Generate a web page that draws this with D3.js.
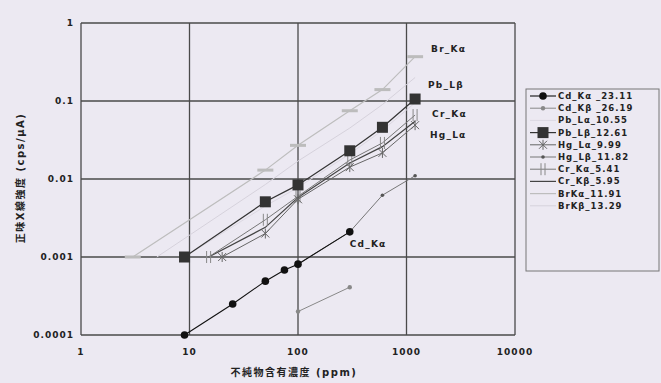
<!DOCTYPE html>
<html><head><meta charset="utf-8">
<script src="https://cdn.jsdelivr.net/npm/d3@7"></script>
<style>
html,body{margin:0;padding:0;background:#ece9f2;}
svg{display:block;}
text{font-family:"DejaVu Sans","Noto Sans CJK JP",sans-serif;fill:#222;}
</style></head>
<body>
<script>
// ---- data ----
const xTicks = [1, 10, 100, 1000, 10000];
const yTicks = [0.0001, 0.001, 0.01, 0.1, 1];
const xTickLabels = ["1", "10", "100", "1000", "10000"];
const yTickLabels = ["0.0001", "0.001", "0.01", "0.1", "1"];
const xTitle = "不純物含有濃度 (ppm)";
const yTitle = "正味X線強度 (cps/μA)";

const seriesNames = ["Cd_Kα _23.11", "Cd_Kβ _26.19", "Pb_Lα_10.55", "Pb_Lβ_12.61", "Hg_Lα_9.99",
  "Hg_Lβ_11.82", "Cr_Kα_5.41", "Cr_Kβ_5.95", "BrKα_11.91", "BrKβ_13.29"];

const cdKaX = [9, 25, 50, 75, 100, 300];
const cdKaY = [0.0001, 0.00025, 0.00049, 0.00068, 0.00081, 0.0021];
const cdKbX = [100, 300];
const cdKbY = [0.0002, 0.00041];
const pbLaX = [9, 50, 100, 300, 600, 1200];
const pbLaY = [0.001, 0.0045, 0.0078, 0.021, 0.042, 0.095];
const pbLbX = [9, 50, 100, 300, 600, 1200];
const pbLbY = [0.001, 0.0051, 0.0084, 0.023, 0.046, 0.106];
const hgLaX = [20, 50, 100, 300, 600, 1200];
const hgLaY = [0.001, 0.002, 0.0055, 0.0142, 0.0216, 0.049];
const hgLbX = [100, 300, 600, 1200];
const hgLbY = [0.00081, 0.0021, 0.0062, 0.011];
const crKaX = [15, 50, 100, 300, 600, 1200];
const crKaY = [0.001, 0.003, 0.006, 0.0175, 0.029, 0.066];
const crKbX = [15, 50, 100, 300, 600, 1200];
const crKbY = [0.001, 0.0024, 0.0058, 0.016, 0.026, 0.055];
const brKaX = [3, 50, 100, 300, 600, 1200];
const brKaY = [0.001, 0.013, 0.027, 0.075, 0.14, 0.37];
const brKbX = [5, 50, 100, 300, 600, 1200];
const brKbY = [0.001, 0.0085, 0.017, 0.045, 0.09, 0.2];

const plotLabels = ["Br_Kα", "Pb_Lβ", "Cr_Kα", "Hg_Lα", "Cd_Kα"];

// ---- build ----
const W = 661, H = 383;
const svg = d3.select("body").append("svg").attr("width", W).attr("height", H);
const x = d3.scaleLog().domain([1, 10000]).range([81, 515]);
const y = d3.scaleLog().domain([0.0001, 1]).range([335, 23]);

const styles = [
  {c:"#111", w:1.1, m:"circle"},
  {c:"#888", w:1, m:"small"},
  {c:"#dcd8e2", w:1, m:"none"},
  {c:"#333", w:1.2, m:"square"},
  {c:"#666", w:1, m:"star"},
  {c:"#777", w:1, m:"dot"},
  {c:"#777", w:1, m:"vtick"},
  {c:"#444", w:1.2, m:"none"},
  {c:"#bdbdbd", w:1.2, m:"dash"},
  {c:"#d6d2dc", w:1, m:"none"}
];
const seriesData = [
  [cdKaX, cdKaY], [cdKbX, cdKbY], [pbLaX, pbLaY], [pbLbX, pbLbY], [hgLaX, hgLaY],
  [hgLbX, hgLbY], [crKaX, crKaY], [crKbX, crKbY], [brKaX, brKaY], [brKbX, brKbY]
].map(([xs, ys]) => xs.map((v, i) => [v, ys[i]]));

// grid & frame
const g = svg.append("g");
g.selectAll("line.vx").data(xTicks).enter().append("line")
  .attr("x1", d => x(d)).attr("x2", d => x(d)).attr("y1", y(1)).attr("y2", y(0.0001))
  .attr("stroke", "#4a4a4a").attr("stroke-width", 1.3);
g.selectAll("line.hy").data(yTicks).enter().append("line")
  .attr("y1", d => y(d)).attr("y2", d => y(d)).attr("x1", x(1)).attr("x2", x(10000))
  .attr("stroke", "#4a4a4a").attr("stroke-width", 1.3);

// tick labels
g.selectAll("text.xt").data(xTicks).enter().append("text")
  .attr("x", d => x(d)).attr("y", 355).attr("text-anchor", "middle")
  .attr("font-size", 9).attr("font-weight", "bold").attr("letter-spacing", 1)
  .text((d, i) => xTickLabels[i]);
g.selectAll("text.yt").data(yTicks).enter().append("text")
  .attr("x", 74).attr("y", d => y(d) + 3).attr("text-anchor", "end")
  .attr("font-size", 9).attr("font-weight", "bold").attr("letter-spacing", 1)
  .text((d, i) => yTickLabels[i]);

// axis titles
svg.append("text").attr("x", 294).attr("y", 376).attr("text-anchor", "middle")
  .attr("font-size", 10).attr("font-weight", "bold").attr("letter-spacing", 1.5).text(xTitle);
svg.append("text").attr("transform", "translate(24,178) rotate(-90)").attr("text-anchor", "middle")
  .attr("font-size", 10).attr("font-weight", "bold").attr("letter-spacing", 1.5).text(yTitle);

// markers
function marker(sel, type, color) {
  sel.each(function(d) {
    const s = d3.select(this);
    if (type === "circle") s.append("circle").attr("r", 3.8).attr("fill", "#111");
    else if (type === "small") s.append("circle").attr("r", 2.2).attr("fill", "#888");
    else if (type === "square") s.append("rect").attr("x", -5.5).attr("y", -5.5).attr("width", 11).attr("height", 11).attr("fill", "#333");
    else if (type === "dot") s.append("circle").attr("r", 1.8).attr("fill", "#555");
    else if (type === "star") {
      s.append("path").attr("d", "M-4,-4L4,4M-4,4L4,-4M0,-5V5").attr("stroke", "#666").attr("stroke-width", 1);
    } else if (type === "vtick") {
      s.append("path").attr("d", "M-2,-6V6M2,-6V6").attr("stroke", "#888").attr("stroke-width", 1);
    } else if (type === "dash") {
      s.append("rect").attr("x", -8).attr("y", -1.5).attr("width", 16).attr("height", 3).attr("fill", "#bcbcbc");
    }
  });
}

const line = d3.line().x(d => x(d[0])).y(d => y(d[1]));
const drawOrder = [9, 2, 8, 7, 6, 4, 5, 1, 0, 3];
drawOrder.forEach(i => {
  const st = styles[i];
  const sg = svg.append("g");
  sg.append("path").attr("d", line(seriesData[i])).attr("fill", "none")
    .attr("stroke", st.c).attr("stroke-width", st.w);
  const pts = sg.selectAll("g.p").data(seriesData[i]).enter().append("g")
    .attr("transform", d => `translate(${x(d[0])},${y(d[1])})`);
  marker(pts, st.m, st.c);
});

// in-plot labels attached to series
const labelSeries = [8, 3, 6, 4, 0];
const labelOffsets = [[16, -5], [13, -11], [17, 2], [15, 13], [0, 15]];
labelSeries.forEach((si, k) => {
  const pts = seriesData[si];
  const p = pts[pts.length - 1];
  svg.append("text").attr("x", x(p[0]) + labelOffsets[k][0]).attr("y", y(p[1]) + labelOffsets[k][1])
    .attr("font-size", 9).attr("font-weight", "bold").attr("letter-spacing", 1.2).text(plotLabels[k]);
});

// legend
const lg = svg.append("g");
lg.append("rect").attr("x", 526).attr("y", 89).attr("width", 133).attr("height", 182)
  .attr("fill", "none").attr("stroke", "#777").attr("stroke-width", 1);
seriesNames.forEach((name, i) => {
  const ly = 96 + i * 12.2;
  const st = styles[i];
  const row = lg.append("g").attr("transform", `translate(0,${ly})`);
  if (st.c) row.append("line").attr("x1", 530).attr("x2", 556).attr("y1", 0).attr("y2", 0)
    .attr("stroke", st.c).attr("stroke-width", st.w);
  const m = row.append("g").datum([0, 0]).attr("transform", "translate(543,0)");
  marker(m, st.m === "dash" ? "none" : st.m, st.c);
  row.append("text").attr("x", 558).attr("y", 3).attr("font-size", 8.5).attr("font-weight", "bold")
    .attr("letter-spacing", 1).text(name);
});
</script>
</body></html>
